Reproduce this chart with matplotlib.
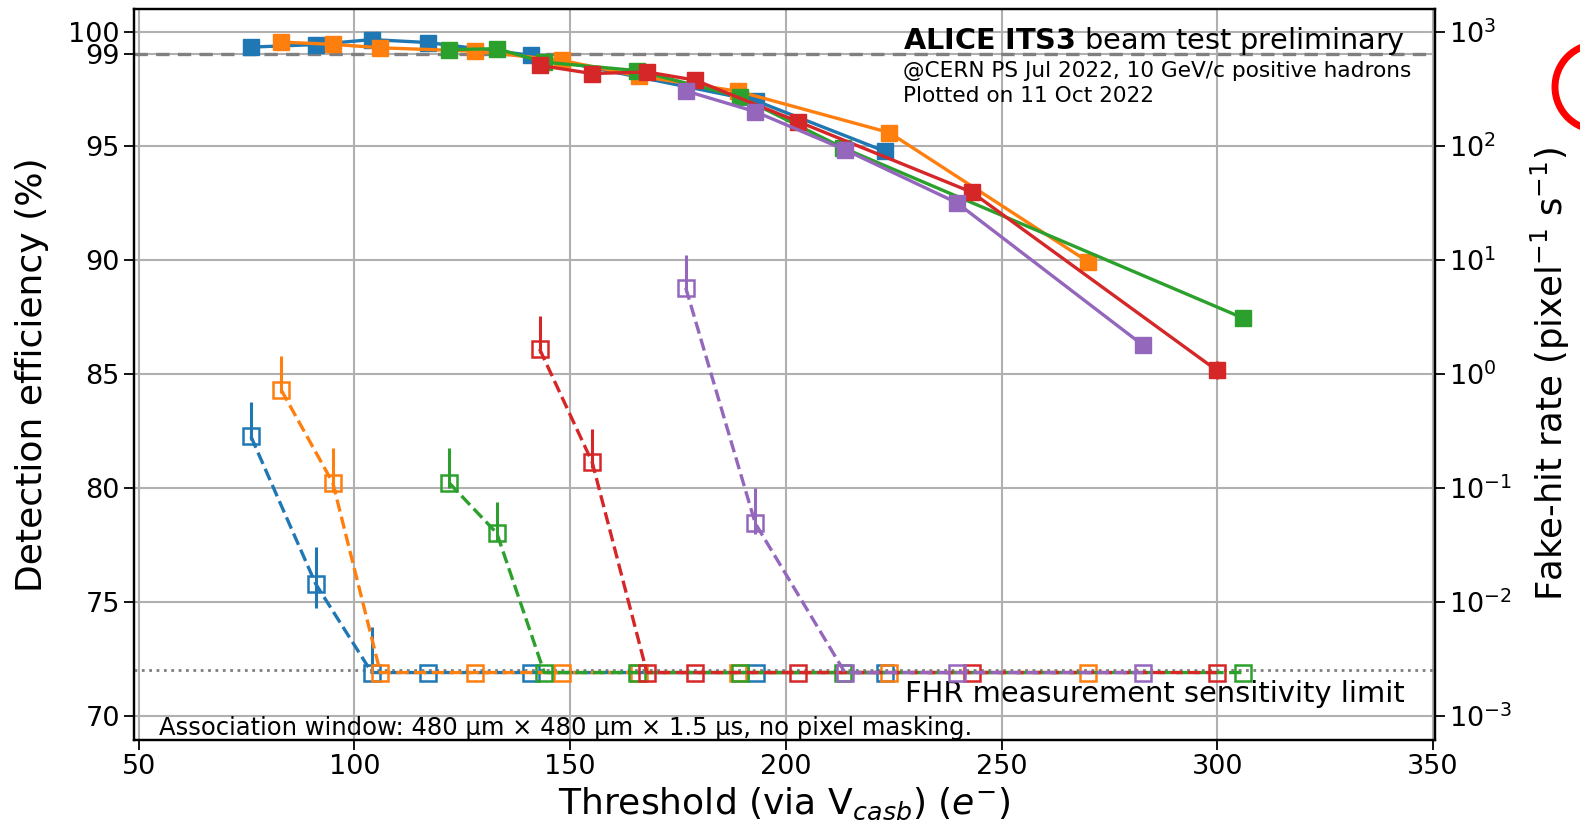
import matplotlib
matplotlib.use("Agg")
import matplotlib.pyplot as plt
from matplotlib.patches import Ellipse
import numpy as np

# threshold (e-), detection efficiency (%), fake-hit rate (pixel^-1 s^-1)
blue_thr = [76, 91, 104, 117, 141, 193, 223]
blue_eff = [99.32, 99.43, 99.65, 99.52, 98.96, 96.97, 94.75]
blue_eff_err = [0.08, 0.08, 0.08, 0.08, 0.1, 0.12, 0.15]
blue_fhr = [0.282, 0.0144, 0.0024, 0.0024, 0.0024, 0.0024, 0.0024]
blue_fhr_lo = [0.02, 0.0056, 0.0, 0.0, 0.0, 0.0, 0.0]
blue_fhr_hi = [0.28, 0.0157, 0.0036, 0.0, 0.0, 0.0, 0.0]

orange_thr = [83, 95, 106, 128, 148, 166, 189, 224, 270]
orange_eff = [99.54, 99.44, 99.29, 99.14, 98.74, 98.05, 97.38, 95.57, 89.92]
orange_eff_err = [0.08, 0.08, 0.08, 0.08, 0.1, 0.1, 0.12, 0.15, 0.25]
orange_fhr = [0.723, 0.110, 0.0024, 0.0024, 0.0024, 0.0024, 0.0024, 0.0024, 0.0024]
orange_fhr_lo = [0.05, 0.016, 0.0, 0.0, 0.0, 0.0, 0.0, 0.0, 0.0]
orange_fhr_hi = [0.72, 0.114, 0.0, 0.0, 0.0, 0.0, 0.0, 0.0, 0.0]

green_thr = [122, 133, 144, 165.5, 189.4, 213.3, 306]
green_eff = [99.21, 99.25, 98.66, 98.29, 97.14, 94.9, 87.44]
green_eff_err = [0.08, 0.08, 0.1, 0.1, 0.12, 0.15, 0.32]
green_fhr = [0.110, 0.040, 0.0024, 0.0024, 0.0024, 0.0024, 0.0024]
green_fhr_lo = [0.01, 0.0055, 0.0, 0.0, 0.0, 0.0, 0.0]
green_fhr_hi = [0.114, 0.035, 0.0, 0.0, 0.0, 0.0, 0.0]

red_thr = [142.9, 155.1, 167.8, 179.0, 202.9, 243.1, 299.9]
red_eff = [98.52, 98.16, 98.23, 97.87, 96.05, 92.96, 85.15]
red_eff_err = [0.08, 0.08, 0.1, 0.1, 0.12, 0.2, 0.4]
red_fhr = [1.65, 0.168, 0.0024, 0.0024, 0.0024, 0.0024, 0.0024]
red_fhr_lo = [0.12, 0.02, 0.0, 0.0, 0.0, 0.0, 0.0]
red_fhr_hi = [1.59, 0.161, 0.0, 0.0, 0.0, 0.0, 0.0]

purple_thr = [176.8, 192.9, 213.7, 239.6, 282.8]
purple_eff = [97.40, 96.49, 94.82, 92.5, 86.25]
purple_eff_err = [0.1, 0.1, 0.12, 0.2, 0.35]
purple_fhr = [5.66, 0.0489, 0.0024, 0.0024, 0.0024]
purple_fhr_lo = [0.4, 0.0095, 0.0, 0.0, 0.0]
purple_fhr_hi = [5.44, 0.051, 0.0, 0.0, 0.0]

series = [
    ("tab:blue", blue_thr, blue_eff, blue_eff_err, blue_fhr, blue_fhr_lo, blue_fhr_hi),
    ("tab:orange", orange_thr, orange_eff, orange_eff_err, orange_fhr, orange_fhr_lo, orange_fhr_hi),
    ("tab:green", green_thr, green_eff, green_eff_err, green_fhr, green_fhr_lo, green_fhr_hi),
    ("tab:red", red_thr, red_eff, red_eff_err, red_fhr, red_fhr_lo, red_fhr_hi),
    ("tab:purple", purple_thr, purple_eff, purple_eff_err, purple_fhr, purple_fhr_lo, purple_fhr_hi),
]

eff_ticks = [70, 75, 80, 85, 90, 95, 99, 100]
eff_target = 99
fhr_limit = 2.55e-3
eff_lim = (68.95, 101.0)

fig = plt.figure(figsize=(15.8, 8.36), dpi=100)
ax = fig.add_axes([0.0851, 0.115, 0.8229, 0.8745])
ax2 = ax.twinx()

# map efficiency axis onto log FHR axis: 70% <-> 1e-3, 5% per decade
fhr_lim = tuple(10 ** ((v - 70) / 5 - 3) for v in eff_lim)

for col, thr, eff, eerr, fhr, flo, fhi in series:
    ax.errorbar(thr, eff, yerr=eerr, color=col, marker='s', markersize=11,
                linewidth=2.4, elinewidth=2, zorder=3)
    ax2.errorbar(thr, fhr, yerr=[flo, fhi], color=col, marker='s', markersize=11,
                 markerfacecolor='none', markeredgewidth=1.8, linestyle='--',
                 linewidth=2.4, elinewidth=2.2, zorder=3)

ax.axhline(eff_target, color='gray', linestyle='--', linewidth=2.4, dashes=(4, 2.5), zorder=2)
ax2.axhline(fhr_limit, color='gray', linestyle=':', linewidth=2, zorder=2)

ax.set_xlim(49, 350.4)
ax.set_ylim(*eff_lim)
ax2.set_yscale('log')
ax2.set_ylim(*fhr_lim)
ax.set_yticks(eff_ticks)
ax.set_xticks([50, 100, 150, 200, 250, 300, 350])
ax.grid(True, color='#b0b0b0', linewidth=1.5)
ax.set_axisbelow(True)

ax.tick_params(labelsize=19.5, length=7, width=1.3)
ax2.tick_params(labelsize=19.5, length=7, width=1.3)
ax2.tick_params(which='minor', length=0)
for a in (ax, ax2):
    for s in a.spines.values():
        s.set_linewidth(1.6)

ax.set_xlabel(r"Threshold (via V$_{casb}$) ($e^{-}$)", fontsize=26, labelpad=4)
ax.set_ylabel("Detection efficiency (%)", fontsize=26, labelpad=14)
ax2.set_ylabel(r"Fake-hit rate (pixel$^{-1}$ s$^{-1}$)", fontsize=25.5, labelpad=12)

ax.text(0.591, 0.978, r"$\bf{ALICE\ ITS3}$ beam test preliminary", transform=ax.transAxes,
        fontsize=20.7, va='top', ha='left')
ax.text(0.591, 0.929, "@CERN PS Jul 2022, 10 GeV/c positive hadrons", transform=ax.transAxes,
        fontsize=15.6, va='top', ha='left')
ax.text(0.591, 0.894, "Plotted on 11 Oct 2022", transform=ax.transAxes,
        fontsize=15.6, va='top', ha='left')
ax.text(0.977, 0.063, "FHR measurement sensitivity limit", transform=ax.transAxes,
        fontsize=20.8, va='center', ha='right')
ax.text(0.019, 0.016, "Association window: 480 µm × 480 µm × 1.5 µs, no pixel masking.",
        transform=ax.transAxes, fontsize=17.5, va='center', ha='left')

# red annotation circle at the right edge
fig.patches.append(Ellipse((1598 / 1580, 1 - 87 / 836), 86 / 1580, 86 / 836,
                           transform=fig.transFigure, fill=False, edgecolor='red',
                           linewidth=5, figure=fig))

fig.savefig("out.png", dpi=100)
